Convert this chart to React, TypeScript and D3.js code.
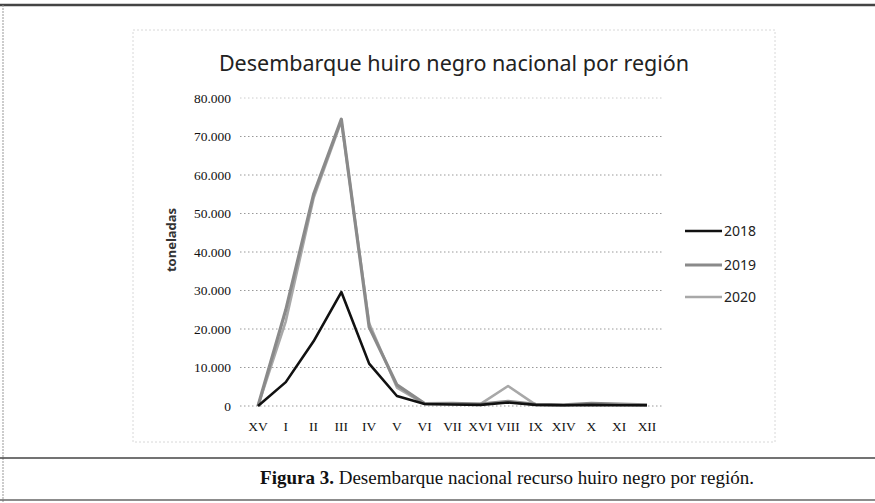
import React from "react";
import * as d3 from "d3";

const categories = ["XV", "I", "II", "III", "IV", "V", "VI", "VII", "XVI", "VIII", "IX", "XIV", "X", "XI", "XII"];
const values2018 = [0, 6200, 16800, 29600, 11000, 2600, 500, 400, 300, 900, 300, 200, 300, 200, 200];
const values2019 = [0, 25000, 55000, 74500, 20500, 5500, 600, 700, 500, 1200, 400, 300, 700, 500, 300];
const values2020 = [0, 22000, 54000, 74000, 21500, 4800, 500, 600, 500, 5200, 300, 200, 500, 300, 200];
const yTicks = [0, 10000, 20000, 30000, 40000, 50000, 60000, 70000, 80000];
const seriesNames = ["2018", "2019", "2020"];

const W = 875;
const H = 503;

export default function App() {
  const x = d3.scalePoint<string>().domain(categories).range([258, 647]);
  const y = d3.scaleLinear().domain([0, 80000]).range([406, 98]);
  const loc = d3.formatLocale({ decimal: ",", thousands: ".", grouping: [3], currency: ["", ""] });
  const fmt = loc.format(",d");
  const line = d3
    .line<number>()
    .x((_, i) => x(categories[i]) as number)
    .y((d) => y(d));

  const series = [
    { name: seriesNames[0], values: values2018, color: "#111", width: 2.6 },
    { name: seriesNames[1], values: values2019, color: "#8a8a8a", width: 3.2 },
    { name: seriesNames[2], values: values2020, color: "#a8a8a8", width: 2.6 },
  ];
  const legendY = [231, 265, 297];

  return (
    <svg width={W} height={H} style={{ position: "absolute", left: 0, top: 0, background: "#fff" }}>
      <rect x={0} y={0} width={W} height={H} fill="#fff" />
      {/* page frame */}
      <line x1={0} x2={W} y1={5} y2={5} stroke="#444" strokeWidth={2.5} />
      <line x1={3} x2={3} y1={5} y2={H} stroke="#999" strokeWidth={1} strokeDasharray="2,1" />
      <line x1={0} x2={W} y1={458} y2={458} stroke="#444" strokeWidth={1.6} />
      <line x1={0} x2={W} y1={500} y2={500} stroke="#666" strokeWidth={1.5} />
      {/* chart frame (faint) */}
      <rect x={133} y={30} width={642} height={412} fill="none" stroke="#d8d8d8" strokeWidth={1} strokeDasharray="2,2" />

      {/* title */}
      <text x={454} y={71} textAnchor="middle" fontFamily="'Noto Sans', sans-serif" fontSize={21.5} fill="#222">
        Desembarque huiro negro nacional por región
      </text>

      {/* gridlines */}
      {yTicks.map((t) => (
        <line key={"g" + t} x1={240} x2={662} y1={y(t)} y2={y(t)} stroke={t === 80000 ? "#ccc" : "#999"} strokeWidth={1} strokeDasharray="1.5,2.5" />
      ))}
      {/* y tick labels */}
      {yTicks.map((t) => (
        <text key={"t" + t} x={231} y={y(t) + 4.5} textAnchor="end" fontFamily="'Liberation Serif', serif" fontSize={13.5} fill="#111">
          {fmt(t)}
        </text>
      ))}
      {/* y title */}
      <text transform={`translate(176,240) rotate(-90)`} textAnchor="middle" fontFamily="'Noto Sans', sans-serif" fontSize={13} fontWeight="bold" fill="#333">
        toneladas
      </text>
      {/* x labels */}
      {categories.map((c) => (
        <text key={"x" + c} x={x(c)} y={431} textAnchor="middle" fontFamily="'Liberation Serif', serif" fontSize={13.5} fill="#111">
          {c}
        </text>
      ))}

      {/* lines */}
      {series
        .slice()
        .reverse()
        .map((s) => (
          <path key={s.name} d={line(s.values) || ""} fill="none" stroke={s.color} strokeWidth={s.width} strokeLinejoin="round" />
        ))}

      {/* legend */}
      {series.map((s, i) => (
        <g key={"l" + s.name}>
          <line x1={685} x2={722} y1={legendY[i]} y2={legendY[i]} stroke={s.color} strokeWidth={s.width} />
          <text x={724} y={legendY[i] + 5} fontFamily="'Noto Sans', sans-serif" fontSize={14} fill="#222">
            {s.name}
          </text>
        </g>
      ))}

      {/* caption */}
      <text x={507} y={484} textAnchor="middle" fontFamily="'Liberation Serif', serif" fontSize={19} fill="#111">
        <tspan fontWeight="bold">Figura 3.</tspan>
        <tspan> Desembarque nacional recurso huiro negro por región.</tspan>
      </text>
    </svg>
  );
}
